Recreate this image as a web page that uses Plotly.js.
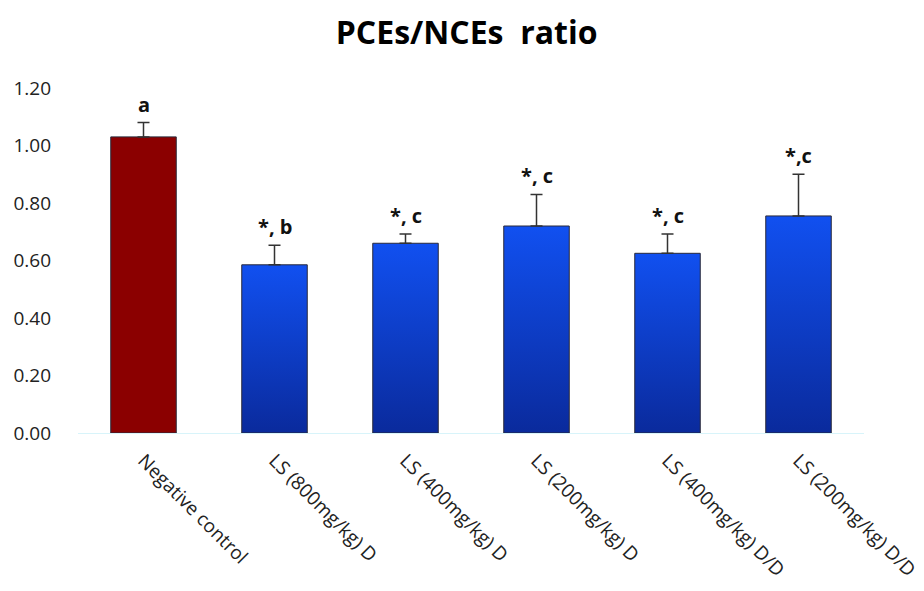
<!DOCTYPE html>
<html>
<head>
<meta charset="utf-8">
<script src="https://cdn.plot.ly/plotly-3.0.1.min.js"></script>
<style>html,body{margin:0;padding:0;background:#fff;}#chart{width:924px;height:591px;}</style>
</head>
<body>
<div id="chart"></div>
<script>
var categories = ["Negative control", "LS (800mg/kg) D", "LS (400mg/kg) D", "LS (200mg/kg) D", "LS (400mg/kg) D/D", "LS (200mg/kg) D/D"];
var values = [1.03, 0.585, 0.66, 0.72, 0.625, 0.755];
var errors = [0.05, 0.068, 0.032, 0.11, 0.067, 0.145];
var letters = ["a", "*, b", "*, c", "*, c", "*, c", "*,c"];
var barColors = ["#8b0000", "#1048e0", "#1048e0", "#1048e0", "#1048e0", "#1048e0"];
var yTicks = [0, 0.2, 0.4, 0.6, 0.8, 1.0, 1.2];

var trace = {
  type: "bar",
  x: categories,
  y: values,
  width: 0.5,
  marker: {color: barColors, line: {color: "#2a2a3a", width: 1}},
  error_y: {type: "data", array: errors, arrayminus: errors.map(function () { return 0; }), symmetric: false, visible: true, color: "#333333", thickness: 1.5, width: 6},
  hoverinfo: "x+y"
};

var annotations = categories.map(function (c, i) {
  return {
    x: c, y: values[i] + errors[i], text: "<b>" + letters[i] + "</b>", showarrow: false,
    yanchor: "bottom", yshift: 3,
    font: {family: "Open Sans, sans-serif", size: 20, color: "#111"}
  };
});

var layout = {
  width: 924, height: 591,
  margin: {l: 78, r: 60, t: 88, b: 158},
  paper_bgcolor: "#fff", plot_bgcolor: "#fff",
  showlegend: false,
  title: {text: "<b>PCEs/NCEs  ratio</b>", x: 0.505, xanchor: "center", y: 0.945, yanchor: "middle",
          font: {family: "Open Sans, sans-serif", size: 32, color: "#000"}},
  xaxis: {
    type: "category", range: [-0.5, 5.5], tickangle: 45, showgrid: false, zeroline: false,
    showline: true, linecolor: "#d8f4fa", linewidth: 1, ticks: "", ticklabelstandoff: 8,
    tickfont: {family: "Open Sans, sans-serif", size: 19, color: "#222"}
  },
  yaxis: {
    range: [0, 1.2], tickvals: yTicks, ticktext: yTicks.map(function (v) { return v.toFixed(2); }),
    showgrid: false, zeroline: false, showline: false, ticks: "", ticklabelstandoff: 26,
    tickfont: {family: "Open Sans, sans-serif", size: 19, color: "#222"}
  },
  annotations: annotations
};

Plotly.newPlot("chart", [trace], layout, {displayModeBar: false, staticPlot: true}).then(function (gd) {
  var svg = gd.querySelector("svg.main-svg");
  var ns = "http://www.w3.org/2000/svg";
  var defs = svg.querySelector("defs") || svg.insertBefore(document.createElementNS(ns, "defs"), svg.firstChild);
  function grad(id, top, bottom) {
    var g = document.createElementNS(ns, "linearGradient");
    g.setAttribute("id", id); g.setAttribute("x1", "0"); g.setAttribute("y1", "0"); g.setAttribute("x2", "0"); g.setAttribute("y2", "1");
    [[0, top], [1, bottom]].forEach(function (s) {
      var st = document.createElementNS(ns, "stop");
      st.setAttribute("offset", s[0]); st.setAttribute("stop-color", s[1]);
      g.appendChild(st);
    });
    defs.appendChild(g);
  }
  grad("gBlue", "#1150f0", "#0a2a9c");
  var paths = gd.querySelectorAll(".trace.bars .point path");
  paths.forEach(function (p, i) {
    if (i > 0) p.style.fill = "url(#gBlue)";
  });
});
</script>
</body>
</html>
